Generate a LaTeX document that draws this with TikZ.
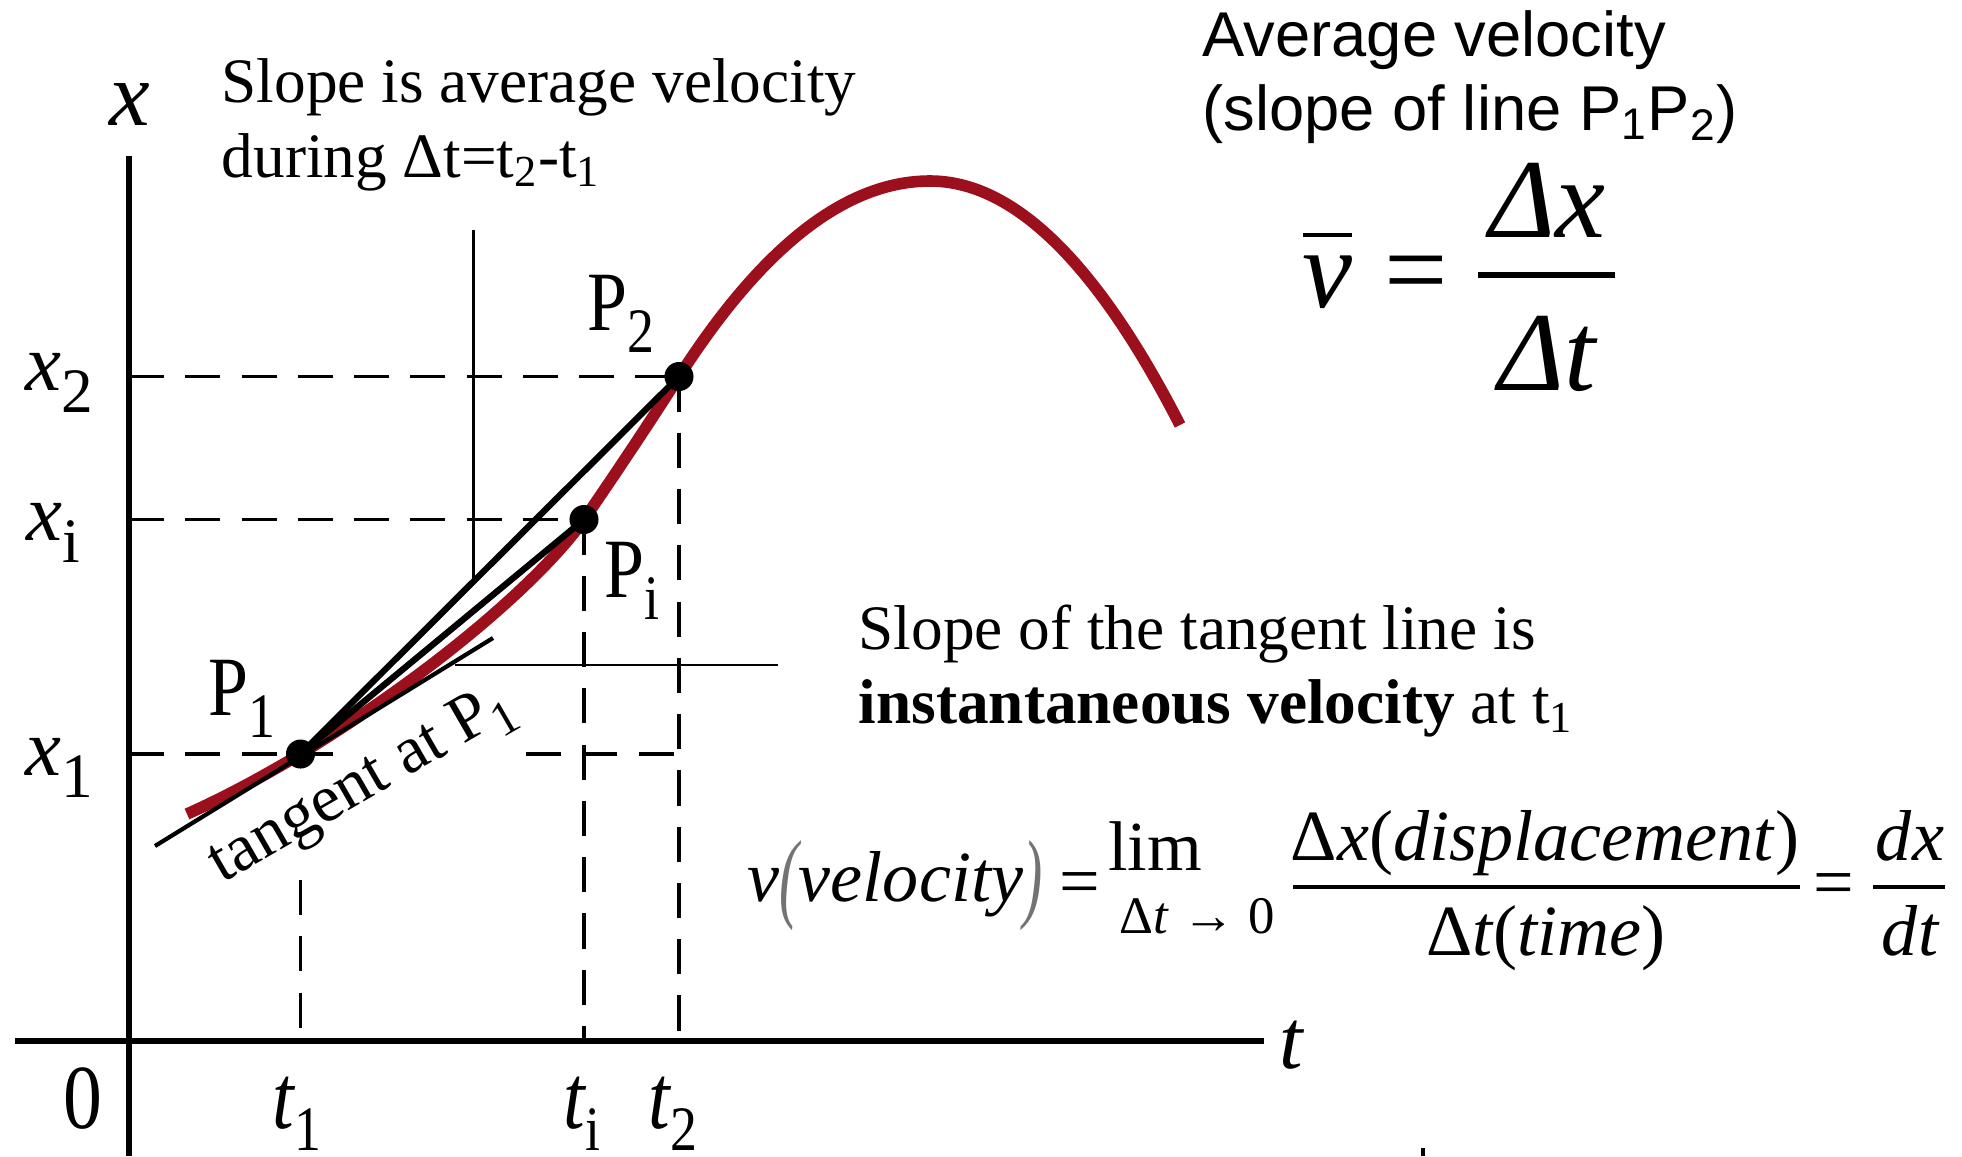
\documentclass[tikz,border=0pt]{standalone}
\usepackage{fontspec}
\usepackage{graphicx}
\setmainfont{Liberation Serif}
\setsansfont{Liberation Sans}
\newfontfamily\labfont[FakeStretch=0.85]{Liberation Serif}
\definecolor{curvered}{RGB}{155,16,28}
\newcommand{\subfont}{\fontsize{18}{18}\selectfont}
\newcommand{\lowsub}[1]{\raisebox{-6.5pt}{\subfont #1}}
\newcommand{\tallparen}[1]{\raisebox{-2.5pt}{\color{black!55}\scalebox{0.8}[1.38]{#1}}}

\tikzset{
  every node/.style={inner sep=0pt},
  axisline/.style={line width=1.8pt},
  guide/.style={line width=0.9pt, dash pattern=on 10pt off 6pt},
  gridline/.style={line width=0.6pt},
  secant/.style={line width=1.8pt},
  tangentline/.style={line width=1.2pt},
  motion/.style={curvered, line width=3.3pt},
  dot/.style={circle, fill=black, minimum size=0.29cm},
  axislabel/.style={anchor=base west, font=\fontsize{23}{23}\selectfont},
  tlabel/.style={anchor=base west, font=\labfont\fontsize{26}{26}\selectfont},
  plabel/.style={anchor=base west, font=\labfont\fontsize{24}{24}\selectfont},
  note/.style={anchor=north west, align=left, font=\fontsize{18}{21.2}\selectfont},
  bigmath/.style={anchor=base, font=\fontsize{32}{32}\selectfont},
  limmath/.style={anchor=base, font=\fontsize{20.5}{20.5}\selectfont},
  fracbar/.style={line width=1.2pt}
}

\begin{document}
\begin{tikzpicture}[x=0.01cm, y=-0.01cm]
\useasboundingbox (0,0) rectangle (1962,1156);

\coordinate (O) at (129,1041);
\coordinate (taxisL) at (15,1041);
\coordinate (taxisR) at (1264,1041);
\coordinate (xaxisT) at (129,156);
\coordinate (xaxisB) at (129,1156);
\coordinate (p1) at (300.5,754);
\coordinate (pi) at (584,519.5);
\coordinate (p2) at (679,376.5);
\coordinate (top) at (930,181);
\coordinate (fall) at (1180,425);

\draw[axisline] (taxisL) -- (taxisR);
\draw[axisline] (xaxisT) -- (xaxisB);

% position curve
\draw[motion] (187,814) .. controls (225,797) and (262,777) .. (p1)
  .. controls (450.5,662) and (549,570) .. (pi)
  .. controls (616,473) and (649,423.3) .. (p2)
  .. controls (762.5,246.2) and (846.2,181) .. (top)
  .. controls (1013.3,181) and (1096.7,262.3) .. (fall);

% guides to the axes
\coordinate (gapL) at (333,754);
\coordinate (gapR) at (526,754);
\coordinate (t1top) at (300.5,880);
\draw[guide] (O |- p2) -- (p2);
\draw[guide] (O |- pi) -- (pi);
\draw[guide] (O |- p1) -- (gapL);
\draw[guide] (gapR) -- (p2 |- p1);
\draw[guide] (t1top) -- (p1 |- O);
\draw[guide] (pi) -- (pi |- O);
\draw[guide] (p2) -- (p2 |- O);

\coordinate (gridT) at (473.5,230);
\coordinate (gridB) at (473.5,580);
\coordinate (gridL) at (455,665);
\coordinate (gridR) at (778,665);
\draw[gridline] (gridT) -- (gridB);
\draw[gridline] (gridL) -- (gridR);

\coordinate (tanlow) at (155,846);
\coordinate (tanhigh) at (493,638);
\draw[tangentline] (tanlow) -- (tanhigh);
\draw[secant] (p1) -- (p2);
\draw[secant] (p1) -- (pi);

\node[dot] (P1) at (p1) {};
\node[dot] (Pi) at (pi) {};
\node[dot] (P2) at (p2) {};

\node[plabel] (P1lab) at (208,715) {P\lowsub{1}};
\node[plabel] (Pilab) at (604,597) {P\lowsub{i}};
\node[plabel] (P2lab) at (587,330) {P\lowsub{2}};
\node[rotate=30, anchor=base west, font=\fontsize{19}{19}\selectfont] (tanlab)
  at (222,884) {tangent at P\raisebox{-4pt}{\fontsize{14}{14}\selectfont 1}};

% axis labels
\node[anchor=base, font=\fontsize{26}{26}\selectfont\itshape] (xname) at (130,125) {x};
\node[anchor=base west, font=\fontsize{24}{24}\selectfont\itshape] (tname) at (1279,1068) {t};
\node[axislabel] (x2lab) at (25,390) {\itshape x\lowsub{\upshape 2}};
\node[axislabel] (xilab) at (26,540) {\itshape x\lowsub{\upshape i}};
\node[axislabel] (x1lab) at (25,775) {\itshape x\lowsub{\upshape 1}};
\node[tlabel] (zero) at (63,1128) {0};
\node[tlabel] (t1lab) at (272,1128) {\itshape t\lowsub{\upshape 1}};
\node[tlabel] (tilab) at (563,1128) {\itshape t\lowsub{\upshape i}};
\node[tlabel] (t2lab) at (648,1128) {\itshape t\lowsub{\upshape 2}};

% notes
\node[note] (avgnote) at (221,58) {Slope is average velocity\\during Δt=t\textsubscript{2}-t\textsubscript{1}};
\node[note, font=\sffamily\fontsize{18}{21}\selectfont] (avgtitle) at (1202,10)
  {Average velocity\\(slope of line P\textsubscript{1}P\textsubscript{2})};
\node[note] (instnote) at (858,604)
  {Slope of the tangent line is\\\textbf{instantaneous velocity} at t\textsubscript{1}};

% average velocity formula
\node[bigmath] (vbar) at (1327,307) {\itshape v};
\draw[line width=1.4pt] (1303,235) -- (1352,235);
\node[bigmath] (veq) at (1416,307) {=};
\node[bigmath] (dxnum) at (1547,237) {\itshape Δx};
\draw[line width=1.5pt] (1478,275) -- (1615,275);
\node[bigmath] (dtden) at (1547,390) {\itshape Δt};

% instantaneous velocity formula
\node[limmath, anchor=base west] (vlhs) at (747,901) {\itshape v\tallparen{(}velocity\tallparen{)}};
\node[limmath] (eqA) at (1080,905) {=};
\node[anchor=base, font=\fontsize{20}{20}\selectfont] (limop) at (1155,870) {lim};
\node[anchor=base, font=\fontsize{15}{15}\selectfont] (limsub) at (1197,933) {Δ\textit{t} → 0};
\node[limmath] (dispnum) at (1545,860) {Δ\textit{x}(\textit{displacement})};
\draw[fracbar] (1293,887) -- (1800,887);
\node[limmath] (timeden) at (1546,955) {Δ\textit{t}(\textit{time})};
\node[limmath] (eqB) at (1834,906) {=};
\node[limmath] (dxtop) at (1910,860) {\itshape dx};
\draw[fracbar] (1873,887) -- (1945,887);
\node[limmath] (dtbot) at (1910,955) {\itshape dt};

\draw[line width=1pt] (1423,1148) -- (1423,1156);
\end{tikzpicture}
\end{document}
